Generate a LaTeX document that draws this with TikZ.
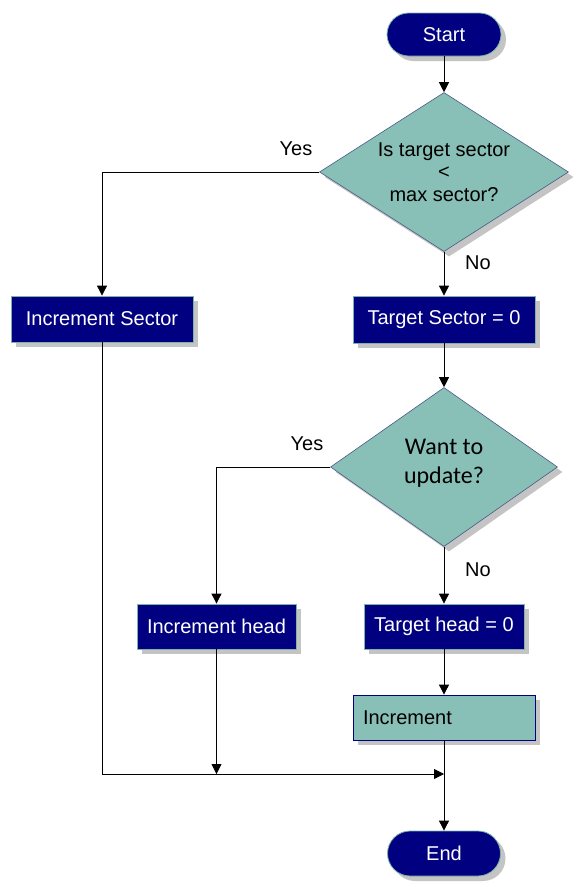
\documentclass[tikz,border=0pt]{standalone}
\usepackage{fontspec}
\setmainfont{Liberation Sans}
\newfontfamily\calfont{Carlito}
\usetikzlibrary{shapes.geometric,shapes.misc,arrows.meta,shadows}
\definecolor{navyc}{HTML}{000080}
\definecolor{tealc}{HTML}{88BFB6}
\definecolor{shadowc}{HTML}{C4C4C4}
\definecolor{dborder}{HTML}{4A5A8A}
\definecolor{lborder}{HTML}{7FB3AA}
\newcommand{\mainsz}{\fontsize{20}{22.5}\selectfont}
\begin{document}
\begin{tikzpicture}[x=1pt,y=-1pt,
  shd/.style={drop shadow={shadow xshift=5pt,shadow yshift=-5pt,fill=shadowc,opacity=1}},
  procbox/.style={rectangle,fill=navyc,draw=lborder,line width=0.8pt,text=white,font=\mainsz,inner sep=0pt,shd},
  term/.style={rounded rectangle,fill=navyc,draw=lborder,line width=0.8pt,text=white,font=\mainsz,inner sep=0pt,minimum width=114pt,minimum height=43pt,shd},
  decision/.style={diamond,fill=tealc,draw=dborder,line width=0.6pt,inner sep=0pt,shd},
  dtext/.style={align=center,font=\mainsz,inner sep=0pt},
  incbox/.style={rectangle,fill=tealc,draw=navyc,line width=0.8pt,font=\mainsz,inner ysep=0pt,inner xsep=10pt,text width=162pt,align=left,minimum height=45pt,shd},
  arr/.style={-{Triangle[length=10pt,width=10pt]},line width=0.8pt},
  lbl/.style={font=\mainsz,inner sep=0pt}]
\fill[white] (0,0) rectangle (580,887);
\useasboundingbox (0,0) rectangle (580,887);

\node[term] (start) at (444,34.5) {Start};
\node[decision,minimum width=249pt,minimum height=159pt,
  label={[dtext]center:Is target sector\\<\\max sector?}] (d1) at (444,172) {};
\node[procbox,minimum width=182pt,minimum height=47pt] (ts) at (444,319.5) {Target Sector = 0};
\node[procbox,minimum width=182pt,minimum height=46pt] (is) at (102,319) {Increment Sector};
\node[decision,minimum width=227pt,minimum height=159pt,
  label={[dtext,font=\calfont\fontsize{24}{29}\selectfont,yshift=4pt]center:Want to\\update?}] (d2) at (444,467) {};
\node[procbox,minimum width=159pt,minimum height=45pt] (ih) at (216.5,626.5) {Increment head};
\node[procbox,minimum width=160pt,minimum height=45pt] (th) at (444,626.5) {Target head = 0};
\node[incbox] (inc) at (444,717.5) {Increment};
\node[term,minimum width=113pt,minimum height=45pt] (end) at (444,853.5) {End};
\coordinate (m) at (444,774);

\node[lbl] (y1) at (296,149) {Yes};
\node[lbl] (n1) at (478,263) {No};
\node[lbl] (y2) at (307,444) {Yes};
\node[lbl] (n2) at (478,570) {No};

\draw[arr] (start.south) -- (d1.north);
\draw[arr] (d1.south) -- (ts.north);
\draw[arr] (d1.west) -| (is.north);
\draw[arr] (ts.south) -- (d2.north);
\draw[arr] (d2.west) -| (ih.north);
\draw[arr] (d2.south) -- (th.north);
\draw[arr] (th.south) -- (inc.north);
\draw[arr] (inc.south) -- (end.north);
\draw[arr] (is.south) |- (m);
\draw[arr] (ih.south) -- (ih.south |- m);
\end{tikzpicture}
\end{document}
